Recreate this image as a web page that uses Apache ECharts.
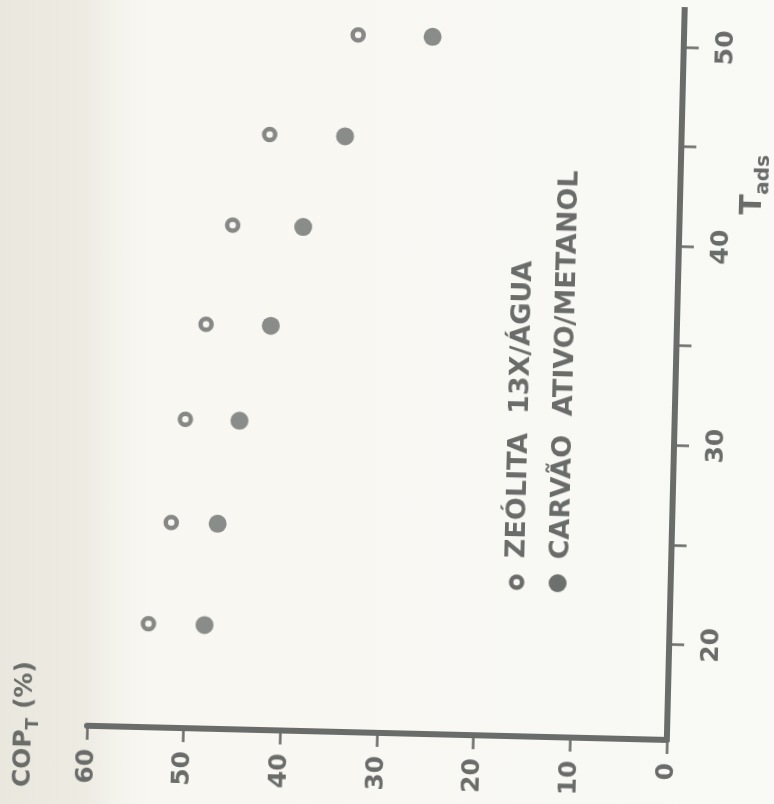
<!DOCTYPE html>
<html>
<head>
<meta charset="utf-8">
<script src="https://cdn.jsdelivr.net/npm/echarts@6/dist/echarts.min.js"></script>
<style>
  html, body {
    margin: 0; padding: 0; width: 774px; height: 804px; overflow: hidden;
    background: linear-gradient(to right, #eae8de 0px, #edebe2 85px, #f3f2eb 112px, #f8f7f2 150px, #f9f9f5 100%);
  }
  /* the printed figure sits slightly askew on the page */
  #chart { width: 774px; height: 804px; transform: rotate(1.4deg); transform-origin: 387px 402px; }
</style>
</head>
<body>
<div id="chart"></div>
<script>
// Adsorption temperature (T_ads) for each measured point
const tadsValues = [20.4, 25.5, 30.7, 35.5, 40.5, 45.1, 50.2];
// COP_T (%) for zeolite 13X / water
const copZeolita = [53.9, 51.8, 50.6, 48.7, 46.2, 42.6, 33.7];
// COP_T (%) for activated carbon / methanol
const copCarvao = [48.1, 47.0, 45.0, 42.0, 38.9, 34.8, 26.0];

// Axis tick marks and labels
const copTicks = [0, 10, 20, 30, 40, 50, 60];
const tadsTicks = [20, 25, 30, 35, 40, 45, 50];
const tadsLabels = [20, 30, 40, 50];

const seriesNames = ['ZEÓLITA  13X/ÁGUA', 'CARVÃO  ATIVO/METANOL'];

const ink = '#6a6c6a';
const fill = '#6e706e';
const fontFamily = 'DejaVu Sans';

const chart = echarts.init(document.getElementById('chart'), null, { renderer: 'canvas' });

const labelStyle = { color: ink, fontFamily: fontFamily, fontWeight: 'bold', fontSize: 25 };

chart.setOption({
  animation: false,
  backgroundColor: 'transparent',
  grid: { left: 95, right: 99, top: 0, bottom: 71, containLabel: false },
  // COP axis runs along the bottom, 60 on the left down to 0 at the corner
  xAxis: {
    type: 'value', inverse: true, min: 0, max: 60, position: 'bottom',
    axisLine: { show: true, onZero: false, lineStyle: { color: ink, width: 6 } },
    axisTick: { show: true, customValues: copTicks, length: 14, lineStyle: { color: ink, width: 2.5 } },
    axisLabel: Object.assign({ customValues: copTicks, rotate: 90, margin: 23 }, labelStyle),
    splitLine: { show: false },
    name: '{m|COP}{s|T}{m| (%)}',
    nameLocation: 'end', nameGap: 45, nameRotate: 90,
    nameTextStyle: {
      color: ink,
      rich: {
        m: { color: ink, fontFamily: fontFamily, fontWeight: 'bold', fontSize: 25, lineHeight: 36, verticalAlign: 'middle' },
        s: { color: ink, fontFamily: fontFamily, fontWeight: 'bold', fontSize: 17, verticalAlign: 'bottom' }
      }
    }
  },
  // adsorption temperature axis stands on the right
  yAxis: {
    type: 'value', position: 'right', min: 15.2, max: 52,
    axisLine: { show: true, onZero: false, lineStyle: { color: ink, width: 6 } },
    axisTick: { show: true, customValues: tadsTicks, length: 15, lineStyle: { color: ink, width: 2.5 } },
    axisLabel: Object.assign({ customValues: tadsLabels, rotate: 90, margin: 30 }, labelStyle),
    splitLine: { show: false }
  },
  series: [
    {
      name: seriesNames[0], type: 'scatter',
      data: tadsValues.map((t, i) => [copZeolita[i], t]),
      symbol: 'circle', symbolSize: 11,
      itemStyle: { color: 'rgba(0,0,0,0)', borderColor: ink, borderWidth: 4.5 }
    },
    {
      name: seriesNames[1], type: 'scatter',
      data: tadsValues.map((t, i) => [copCarvao[i], t]),
      symbol: 'circle', symbolSize: 18,
      itemStyle: { color: fill }
    }
  ],
  graphic: [
    {
      // key, lettered sideways inside the plot
      type: 'group', x: 521, y: 579, rotation: Math.PI / 2,
      children: [
        { type: 'circle', shape: { cx: 0, cy: 0, r: 5.5 }, style: { fill: 'none', stroke: ink, lineWidth: 4.5 } },
        { type: 'text', x: 24, y: 0, style: { text: seriesNames[0], fill: ink, fontFamily: fontFamily, fontWeight: 'bold', fontSize: 27, align: 'left', verticalAlign: 'middle' } },
        { type: 'circle', shape: { cx: 0, cy: 41, r: 9 }, style: { fill: fill } },
        { type: 'text', x: 24, y: 44, style: { text: seriesNames[1], fill: ink, fontFamily: fontFamily, fontWeight: 'bold', fontSize: 27, align: 'left', verticalAlign: 'middle' } }
      ]
    },
    {
      // temperature axis title
      type: 'text', x: 748, y: 176, rotation: Math.PI / 2,
      style: {
        text: '{m|T}{s|ads}', align: 'center', verticalAlign: 'middle',
        rich: {
          m: { fill: ink, fontFamily: fontFamily, fontWeight: 'bold', fontSize: 30, lineHeight: 40, verticalAlign: 'middle' },
          s: { fill: ink, fontFamily: fontFamily, fontWeight: 'bold', fontSize: 20, verticalAlign: 'bottom' }
        }
      }
    }
  ]
});
</script>
</body>
</html>
